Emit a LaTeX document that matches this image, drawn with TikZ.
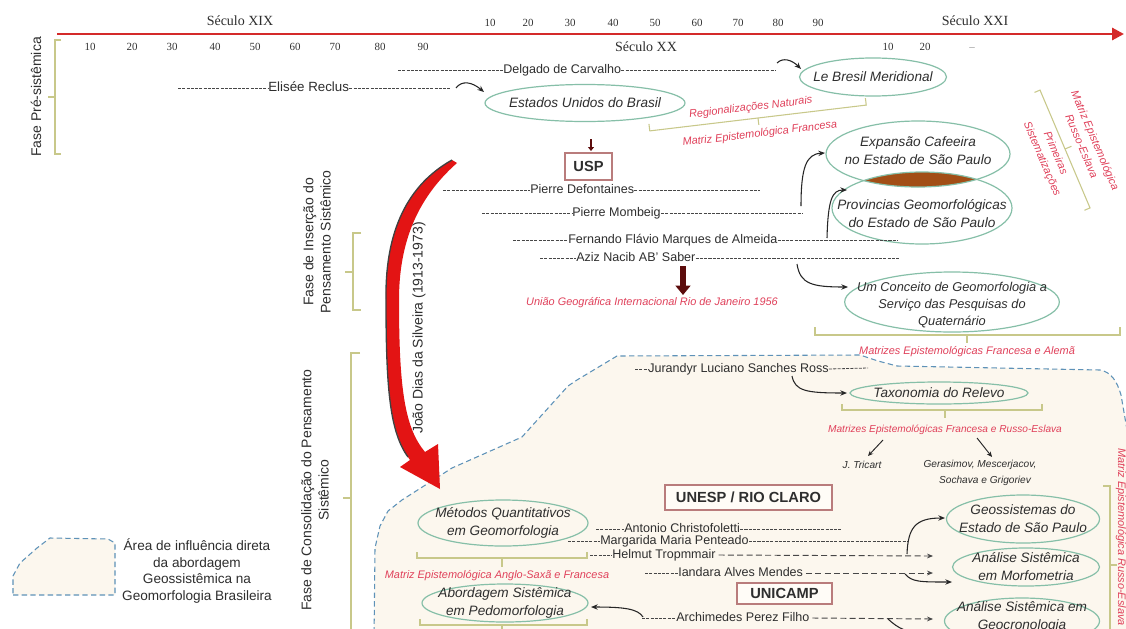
\documentclass[tikz,border=0pt]{standalone}
\usepackage{fontspec}
\setmainfont{Liberation Sans}
\newfontfamily\timesf{Liberation Serif}
\usetikzlibrary{shapes.geometric,arrows.meta}
\definecolor{redline}{HTML}{D42A2A}
\definecolor{redtxt}{HTML}{E0405A}
\definecolor{ellcol}{HTML}{86BFA8}
\definecolor{bracecol}{HTML}{C8C88A}
\definecolor{bndcol}{HTML}{5E92B8}
\definecolor{fillcol}{HTML}{FCF7EE}
\definecolor{fillbox}{HTML}{FFFCF7}
\definecolor{boxcol}{HTML}{B97C7C}
\definecolor{txtcol}{HTML}{2E2E2E}
\definecolor{leadcol}{HTML}{474747}
\definecolor{lenscol}{HTML}{A24E16}
\definecolor{darkred}{HTML}{5C0C0C}
\definecolor{arrred}{HTML}{E31414}
\newcommand\fName{\fontsize{9.4pt}{11pt}\selectfont}
\newcommand\fNameL{\fontsize{10pt}{12pt}\selectfont}
\newcommand\fEll{\fontsize{10.2pt}{13.5pt}\selectfont\itshape}
\newcommand\fEllS{\fontsize{9.6pt}{12.75pt}\selectfont\itshape}
\newcommand\fRed{\fontsize{8.2pt}{11pt}\selectfont\itshape}
\newcommand\fRedS{\fontsize{7.6pt}{9pt}\selectfont\itshape}
\newcommand\fPhase{\fontsize{10.5pt}{12.8pt}\selectfont}
\newcommand\fNum{\timesf\fontsize{8.2pt}{10pt}\selectfont}
\newcommand\fSec{\timesf\fontsize{10.5pt}{12pt}\selectfont}
\newcommand\fBox{\fontsize{11pt}{13pt}\selectfont\bfseries}
\newcommand\fLeg{\fontsize{10.2pt}{12.5pt}\selectfont}
\newcommand\fSmall{\fontsize{7.6pt}{9pt}\selectfont\itshape}
\begin{document}
\begin{tikzpicture}[x=0.75pt,y=-0.75pt,
  every node/.style={text=txtcol},
  ell/.style={ellipse, draw=ellcol, line width=0.9pt, inner sep=0pt},
  elltxt/.style={align=center, font=\fEll, inner sep=0pt, text=txtcol},
  pname/.style={anchor=west, inner sep=0pt, font=\fName, text height=7pt, text depth=1.9pt},
  leader/.style={draw=leadcol, line width=0.6pt, dash pattern=on 2.3pt off 0.9pt},
  dasharr/.style={draw=leadcol, line width=0.7pt, dash pattern=on 4.5pt off 2.5pt, -{Stealth[length=4.5pt,width=3.6pt]}},
  carr/.style={draw=black!85, line width=0.8pt, -{Stealth[length=5pt,width=4pt]}},
  smarr/.style={draw=black!85, line width=0.7pt, -{Stealth[length=4pt,width=3.5pt]}},
  brace/.style={draw=bracecol, line width=0.8pt},
  bnd/.style={draw=bndcol, line width=0.8pt, dash pattern=on 4pt off 2.5pt},
  redlab/.style={text=redtxt, font=\fRed, inner sep=0pt},
  phase/.style={rotate=90, align=center, font=\fPhase, inner sep=0pt},
  inst/.style={draw=boxcol, line width=1.1pt, fill=white, font=\fBox, inner sep=0pt},
  num/.style={font=\fNum, text=black!80, inner sep=0pt},
  sec/.style={font=\fSec, inner sep=0pt},
]
\useasboundingbox (0,0) rectangle (1126,628);
\clip (0,0) rectangle (1126,628);
\fill[white] (0,0) rectangle (1126,628);

% ---------- influence region ----------
\fill[fillcol] (452,468) -- (522,437) -- (568,386) -- (577,380) -- (617,356) -- (860,355) -- (878,361) -- (897,366) -- (1100,370) .. controls (1111,372) and (1117,381) .. (1121,395) -- (1126,420) -- (1140,420) -- (1140,640) -- (374,640) -- (375,548) -- (380,526) -- (388,511) -- (402,500) -- cycle;
\draw[bnd] (1127,430) -- (1121,395) .. controls (1117,381) and (1111,372) .. (1100,370) -- (897,366) -- (878,361) -- (860,355) -- (617,356) -- (577,380) -- (568,386) -- (522,437) -- (452,468) -- (402,500) -- (388,511) -- (380,526) -- (375,548) -- (374,640);

% ---------- legend ----------
\draw[bnd, fill=fillcol] (13,595) -- (115,595) -- (115,543) -- (108,539) -- (50,538) -- (37,548) -- (20,563) -- (13,576) -- cycle;
\node[font=\fLeg, align=center, inner sep=0pt] (legtxt) at (197,571) {Área de influência direta\\da abordagem\\Geossistêmica na\\Geomorfologia Brasileira};

% ---------- timeline ----------
\coordinate (tl0) at (57,34);
\coordinate (tl1) at (1124,34);
\draw[draw=redline, line width=2.2pt, -{Triangle[length=9pt,width=9pt]}] (tl0) -- (tl1);
\node[sec] (sXIX) at (240,21) {Século XIX};
\node[sec] (sXX) at (646,47) {Século XX};
\node[sec] (sXXI) at (975,21) {Século XXI};
\foreach \x/\n [count=\i] in {90/10,132/20,172/30,215/40,255/50,295/60,335/70,380/80,423/90}
  \node[num] (lo\i) at (\x,47) {\n};
\foreach \x/\n [count=\i] in {490/10,528/20,570/30,613/40,655/50,697/60,738/70,778/80,818/90}
  \node[num] (up\i) at (\x,23) {\n};
\node[num] (r10) at (888,47) {10};
\node[num] (r20) at (925,47) {20};
\node[num, text=black!45] (rdash) at (972,49) {\textendash};

% ---------- phase labels and braces ----------
\node[phase] (fpre) at (36,97) {Fase Pré-sistêmica};
\node[phase] (fins) at (317,242) {Fase de Inserção do\\Pensamento Sistêmico};
\node[phase] (fcon) at (315,490) {Fase de Consolidação do Pensamento\\Sistêmico};
\draw[brace] (61,40) -- (55,40) -- (55,154) -- (61,154);
\draw[brace] (55,97) -- (48,97);
\draw[brace] (361,233) -- (353,233) -- (353,310) -- (361,310);
\draw[brace] (353,272) -- (345,272);
\draw[brace] (360,353) -- (351,353) -- (351,640);
\draw[brace] (351,498) -- (343,498);

% ---------- ellipses ----------
\node[ell, minimum width=150pt, minimum height=27.75pt] (eua) at (585,103) {};
\node[elltxt] (euat) at (eua) {Estados Unidos do Brasil};
\node[ell, minimum width=110.25pt, minimum height=28.5pt] (bres) at (873,77) {};
\node[elltxt] (brest) at (bres) {Le Bresil Meridional};
\begin{scope}
  \clip (918,154) ellipse [x radius=69pt, y radius=24.75pt];
  \fill[lenscol] (922,208) ellipse [x radius=67.5pt, y radius=27pt];
\end{scope}
\node[ell, minimum width=138pt, minimum height=49.5pt] (expa) at (918,154) {};
\node[elltxt] (expat) at (918,151) {Expansão Cafeeira\\no Estado de São Paulo};
\node[ell, minimum width=135pt, minimum height=54pt] (prov) at (922,208) {};
\node[elltxt] (provt) at (922,214) {Provincias Geomorfológicas\\do Estado de São Paulo};
\node[ell, minimum width=161pt, minimum height=45pt] (conc) at (952,302) {};
\node[elltxt, font=\fEllS] (conct) at (952,305) {Um Conceito de Geomorfologia a\\Serviço das Pesquisas do\\Quaternário};
\node[ell, minimum width=133.5pt, minimum height=16.5pt] (taxo) at (939,393) {};
\node[elltxt] (taxot) at (taxo) {Taxonomia do Relevo};
\node[ell, minimum width=127.5pt, minimum height=34.5pt] (meto) at (503,523) {};
\node[elltxt] (metot) at (meto) {Métodos Quantitativos\\em Geomorfologia};
\node[ell, minimum width=124.5pt, minimum height=28.5pt] (abor) at (505,603) {};
\node[elltxt] (abort) at (abor) {Abordagem Sistêmica\\em Pedomorfologia};
\node[ell, minimum width=114.75pt, minimum height=36pt] (geos) at (1023,519) {};
\node[elltxt] (geost) at (geos) {Geossistemas do\\Estado de São Paulo};
\node[ell, minimum width=110.25pt, minimum height=28.5pt] (morf) at (1026,567) {};
\node[elltxt] (morft) at (morf) {Análise Sistêmica\\em Morfometria};
\node[ell, minimum width=116.25pt, minimum height=34.5pt] (geoc) at (1022,621) {};
\node[elltxt] (geoct) at (1022,617) {Análise Sistêmica em\\Geocronologia};

% ---------- tilted braces and labels ----------
\begin{scope}[shift={(758,118)}, rotate=6.8]
  \draw[brace] (-109,-7) -- (-109,0) -- (109,0) -- (109,-7);
  \draw[brace] (0,0) -- (0,7);
  \node[redlab, rotate=6.8] (regnat) at (-6,-11) {Regionalizações Naturais};
  \node[redlab, rotate=6.8] (mfran) at (0,16) {Matriz Epistemológica Francesa};
\end{scope}
\begin{scope}[shift={(1065,149)}, rotate=-67]
  \draw[brace] (-64,6) -- (-64,0) -- (64,0) -- (64,6);
  \draw[brace] (0,0) -- (0,-7);
  \node[redlab, rotate=-67, align=center] (primsis) at (0,18) {Primeiras\\Sistematizações};
  \node[redlab, rotate=-67, align=center] (matrus) at (4,-24) {Matriz Epistemológica\\Russo-Eslava};
\end{scope}

% ---------- horizontal braces ----------
\draw[brace] (815,327) -- (815,335) -- (1120,335) -- (1120,327);
\draw[brace] (967,335) -- (967,343);
\node[redlab] (mfa) at (967,352) {Matrizes Epistemológicas Francesa e Alemã};
\draw[brace] (842,404) -- (842,410) -- (1042,410) -- (1042,404);
\draw[brace] (945,410) -- (945,418);
\node[redlab, font=\fRedS] (mfr) at (945,430) {Matrizes Epistemológicas Francesa e Russo-Eslava};
\draw[brace] (417,552) -- (417,558) -- (587,558) -- (587,552);
\draw[brace] (502,558) -- (502,567);
\node[redlab] (mas) at (497,576) {Matriz Epistemológica Anglo-Saxã e Francesa};
\draw[brace] (420,619) -- (420,625) -- (587,625) -- (587,619);
\draw[brace] (502,625) -- (502,633);
\draw[brace] (1103,486) -- (1110,486) -- (1110,640);
\draw[brace] (1110,565) -- (1117,565);
\node[redlab, rotate=-90, anchor=west] (matrus2) at (1121,448) {Matriz Epistemológica Russo-Eslava};

% ---------- small names ----------
\node[font=\fSmall, inner sep=0pt] (tric) at (862,465) {J. Tricart};
\node[font=\fSmall, inner sep=0pt] (gera) at (980,465) {Gerasimov, Mescerjacov,};
\node[font=\fSmall, inner sep=0pt] (soch) at (985,481) {Sochava e Grigoriev};
\coordinate (tA) at (883,440); \coordinate (tB) at (868,456);
\coordinate (gA) at (977,438); \coordinate (gB) at (992,457);
\draw[smarr] (tA) -- (tB);
\draw[smarr] (gA) -- (gB);

% ---------- institutions ----------
\node[inst, minimum width=35.25pt, minimum height=20.25pt] (usp) at (588.5,166.5) {USP};
\node[inst, minimum width=125.25pt, minimum height=18.75pt, fill=fillbox] (unesp) at (748.5,497.5) {UNESP / RIO CLARO};
\node[inst, minimum width=71.25pt, minimum height=15.75pt, fill=fillbox] (unic) at (784.5,593.5) {UNICAMP};
\coordinate (uspA) at (591,139); \coordinate (uspB) at (591,151);
\draw[darkred, line width=1.3pt, -{Triangle[length=3pt,width=4.5pt]}] (uspA) -- (uspB);

% ---------- names with leaders ----------
\node[pname, font=\fNameL, text height=7.5pt, text depth=2pt] (reclus) at (268,88) {Elisée Reclus};
\coordinate (reclusL) at (178,88); \coordinate (reclusR) at (450,88);
\draw[leader] (reclusL) -- (reclus.west); \draw[leader] (reclus.east) -- (reclusR);

\node[pname] (delg) at (503,70) {Delgado de Carvalho};
\coordinate (delgL) at (398,70); \coordinate (delgR) at (775,70);
\draw[leader] (delgL) -- (delg.west); \draw[leader] (delg.east) -- (delgR);

\node[pname] (defo) at (530,190) {Pierre Defontaines};
\coordinate (defoL) at (443,190); \coordinate (defoR) at (760,190);
\draw[leader] (defoL) -- (defo.west); \draw[leader] (defo.east) -- (defoR);

\node[pname] (momb) at (572,213) {Pierre Mombeig};
\coordinate (mombL) at (482,213); \coordinate (mombR) at (803,213);
\draw[leader] (mombL) -- (momb.west); \draw[leader] (momb.east) -- (mombR);

\node[pname] (fern) at (568,240) {Fernando Flávio Marques de Almeida};
\coordinate (fernL) at (513,240); \coordinate (fernR) at (898,240);
\draw[leader] (fernL) -- (fern.west); \draw[leader] (fern.east) -- (fernR);

\node[pname] (aziz) at (576,258) {Aziz Nacib AB' Saber};
\coordinate (azizL) at (540,258); \coordinate (azizR) at (900,258);
\draw[leader] (azizL) -- (aziz.west); \draw[leader] (aziz.east) -- (azizR);

\node[pname] (jura) at (648,369) {Jurandyr Luciano Sanches Ross};
\coordinate (juraL) at (635,369); \coordinate (juraR) at (868,368);
\draw[leader] (juraL) -- (jura.west); \draw[leader] (jura.east) -- (juraR);

\node[pname] (anto) at (624,529) {Antonio Christofoletti};
\coordinate (antoL) at (596,529); \coordinate (antoR) at (842,529);
\draw[leader] (antoL) -- (anto.west); \draw[leader] (anto.east) -- (antoR);

\node[pname] (marg) at (600,541) {Margarida Maria Penteado};
\coordinate (margL) at (568,541); \coordinate (margR) at (908,541);
\draw[leader] (margL) -- (marg.west); \draw[leader] (marg.east) -- (margR);

\node[pname] (helm) at (612,555) {Helmut Tropmmair};
\coordinate (helmL) at (590,555); \coordinate (helmR) at (933,556);
\draw[leader] (helmL) -- (helm.west); \draw[dasharr] ([xshift=2pt]helm.east) -- (helmR);

\node[pname] (iand) at (678,573) {Iandara Alves Mendes};
\coordinate (iandL) at (645,573); \coordinate (iandR) at (933,573);
\draw[leader] (iandL) -- (iand.west); \draw[dasharr] ([xshift=2pt]iand.east) -- (iandR);

\node[pname] (arch) at (676,618) {Archimedes Perez Filho};
\coordinate (archL) at (642,618); \coordinate (archR) at (933,619);
\draw[leader] (archL) -- (arch.west); \draw[dasharr] ([xshift=2pt]arch.east) -- (archR);

% ---------- curved arrows ----------
\coordinate (rA) at (456,88); \coordinate (rB) at (484,92);
\draw[carr] (rA) .. controls (462,80) and (472,82) .. (rB);
\coordinate (dA) at (777,63); \coordinate (dB) at (801,69);
\draw[carr] (dA) .. controls (783,57) and (792,60) .. (dB);
\coordinate (eA) at (801,206); \coordinate (eB) at (825,153);
\draw[carr] (eA) .. controls (801,168) and (806,154) .. (eB);
\coordinate (fA) at (827,238); \coordinate (fB) at (847,190);
\draw[carr] (fA) .. controls (828,200) and (832,190) .. (fB);
\coordinate (aA) at (797,264); \coordinate (aB) at (848,287);
\draw[carr] (aA) .. controls (800,284) and (812,287) .. (aB);
\coordinate (jA) at (792,376); \coordinate (jB) at (847,393);
\draw[carr] (jA) .. controls (795,391) and (806,393) .. (jB);
\coordinate (gsA) at (907,554); \coordinate (gsB) at (945,518);
\draw[carr] (gsA) .. controls (908,528) and (915,518) .. (gsB);
\coordinate (mA) at (905,574); \coordinate (mB) at (952,582);
\draw[carr] (mA) .. controls (912,582) and (920,582) .. (mB);
\coordinate (alA) at (643,617); \coordinate (alB) at (591,607);
\draw[carr] (alA) .. controls (638,609) and (625,607) .. (alB);
\coordinate (adA) at (888,619); \coordinate (adB) at (935,636);
\draw[draw=black!85, line width=0.8pt] (adA) .. controls (898,628) and (905,633) .. (adB);

% ---------- UGI ----------
\coordinate (ugA) at (683,266); \coordinate (ugB) at (683,295);
\draw[darkred, line width=5pt, -{Triangle[length=7pt,width=11pt]}] (ugA) -- (ugB);
\node[redlab] (ugi) at (652,303) {União Geográfica Internacional Rio de Janeiro 1956};

% ---------- big red arrow ----------
\fill[arrred] (452,160) .. controls (402,188) and (385,240) .. (386,300)
   .. controls (386,390) and (390,432) .. (410,460)
   -- (400,467) -- (440,489) -- (438,444) -- (425,452)
   .. controls (405,428) and (399,390) .. (399,300)
   .. controls (399,246) and (415,200) .. (457,163) -- cycle;
\draw[black!75, line width=1pt] (452,160) .. controls (402,188) and (385,240) .. (386,300)
   .. controls (386,390) and (390,432) .. (408,457);
\node[phase] (joao) at (419,328) {João Dias da Silveira (1913-1973)};
\end{tikzpicture}
\end{document}
